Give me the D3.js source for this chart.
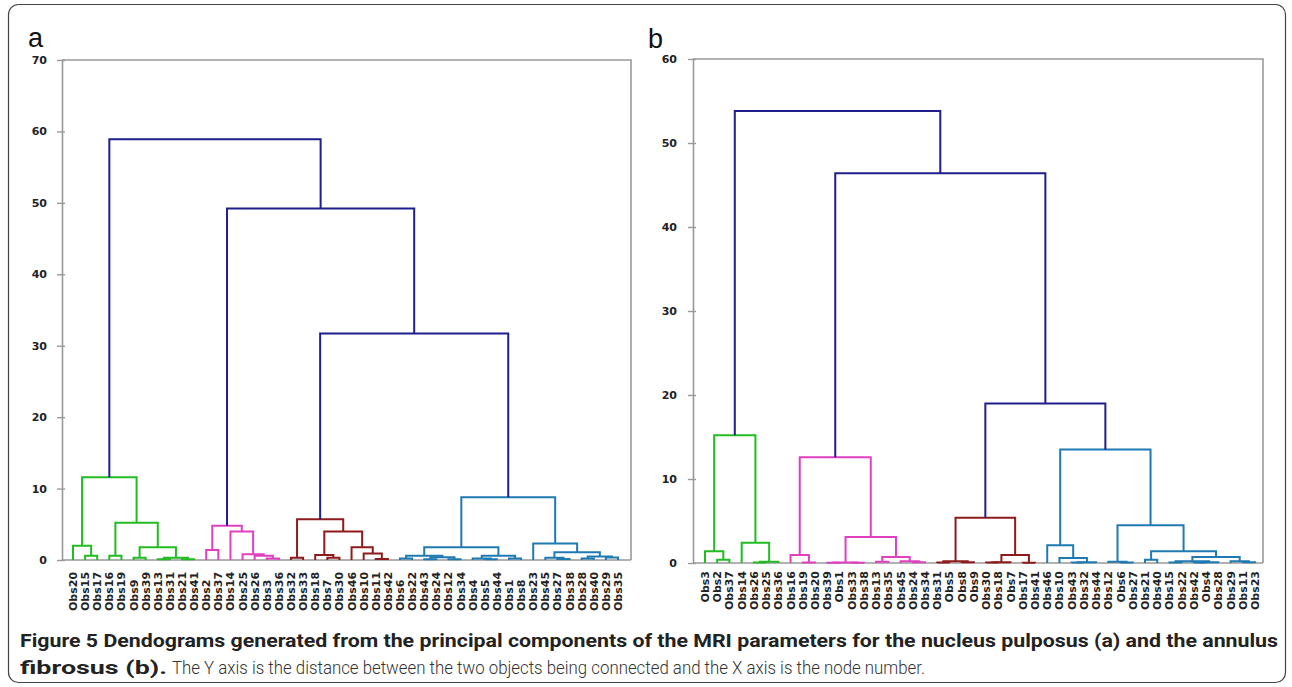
<!DOCTYPE html>
<html>
<head>
<meta charset="utf-8">
<script src="https://cdn.jsdelivr.net/npm/d3@7"></script>
<style>
  body { margin: 0; background: #fff; }
  svg { display: block; }
</style>
</head>
<body>
<div id="chart"></div>
<script>
// leaf order, merges [childA, childB, height] (child = leaf label or earlier merge index)
const leavesA = ["Obs20","Obs15","Obs17","Obs16","Obs19","Obs9","Obs39","Obs13","Obs31","Obs21","Obs41",
  "Obs2","Obs37","Obs14","Obs25","Obs26","Obs3","Obs36",
  "Obs32","Obs33","Obs18","Obs7","Obs30","Obs46","Obs10","Obs11","Obs42",
  "Obs6","Obs22","Obs43","Obs24","Obs12","Obs34","Obs4","Obs5","Obs44","Obs1","Obs8","Obs23","Obs45","Obs27","Obs38","Obs28","Obs40","Obs29","Obs35"];
const clusterSizesA = [11, 7, 9, 19];
const mergesA = [
  ["Obs15","Obs17",0.6], ["Obs20",0,2.0], ["Obs16","Obs19",0.6], ["Obs9","Obs39",0.3],
  ["Obs13","Obs31",0.1], ["Obs21","Obs41",0.1], [4,5,0.3], [3,6,1.8], [2,7,5.2], [1,8,11.6],
  ["Obs2","Obs37",1.4], ["Obs3","Obs36",0.2], ["Obs26",11,0.6], ["Obs25",12,0.8], ["Obs14",13,4.0], [10,14,4.8],
  ["Obs32","Obs33",0.3], ["Obs7","Obs30",0.3], ["Obs18",17,0.7], ["Obs11","Obs42",0.15], ["Obs10",19,0.9],
  ["Obs46",20,1.8], [18,21,4.0], [16,22,5.7],
  ["Obs6","Obs22",0.2], ["Obs43","Obs24",0.1], ["Obs12","Obs34",0.1], [25,26,0.4], [24,27,0.6],
  ["Obs5","Obs44",0.1], ["Obs4",29,0.2], ["Obs1","Obs8",0.2], [30,31,0.6], [28,32,1.8],
  ["Obs27","Obs38",0.15], ["Obs45",34,0.3], ["Obs28","Obs40",0.2], ["Obs29","Obs35",0.35], [36,37,0.5],
  [35,38,1.1], ["Obs23",39,2.3], [33,40,8.8],
  [23,41,31.7], [15,42,49.2], [9,43,58.9]
];
const ticksA = [0, 10, 20, 30, 40, 50, 60, 70];

const leavesB = ["Obs3","Obs2","Obs37","Obs14","Obs26","Obs25","Obs36",
  "Obs16","Obs19","Obs20","Obs39","Obs1","Obs33","Obs38","Obs13","Obs35","Obs45","Obs24","Obs34",
  "Obs31","Obs5","Obs8","Obs9","Obs30","Obs18","Obs7","Obs17","Obs41",
  "Obs46","Obs10","Obs43","Obs32","Obs44","Obs12","Obs6","Obs27","Obs21","Obs40","Obs15","Obs22","Obs42","Obs4","Obs28","Obs29","Obs11","Obs23"];
const clusterSizesB = [7, 12, 9, 18];
const mergesB = [
  ["Obs2","Obs37",0.4], ["Obs3",0,1.4], ["Obs26","Obs25",0.05], [2,"Obs36",0.15], ["Obs14",3,2.4], [1,4,15.2],
  ["Obs19","Obs20",0.05], ["Obs16",6,0.95], ["Obs39","Obs1",0.02], ["Obs33","Obs38",0.03], [8,9,0.06],
  ["Obs13","Obs35",0.15], ["Obs24","Obs34",0.1], ["Obs45",12,0.2], [11,13,0.7], [10,14,3.1], [7,15,12.6],
  ["Obs31","Obs5",0.05], ["Obs8","Obs9",0.1], [17,18,0.2], ["Obs30","Obs18",0.05], [20,"Obs7",0.1],
  ["Obs17","Obs41",0.02], [21,22,0.95], [19,23,5.4],
  ["Obs43","Obs32",0.05], [25,"Obs44",0.1], ["Obs10",26,0.6], ["Obs46",27,2.1],
  ["Obs6","Obs27",0.05], ["Obs12",29,0.15], ["Obs21","Obs40",0.4], ["Obs15","Obs22",0.05],
  ["Obs42","Obs4",0.05], [33,"Obs28",0.1], [32,34,0.2], ["Obs11","Obs23",0.1], ["Obs29",36,0.2],
  [35,37,0.7], [31,38,1.4], [30,39,4.5], [28,40,13.5],
  [24,41,19.0], [16,42,46.4], [5,43,53.8]
];
const ticksB = [0, 10, 20, 30, 40, 50, 60];

const clusterColors = ["#22bb22", "#e040c0", "#8e1b1b", "#1f7ab2"];
const topColor = "#1e1e8c";

const W = 1292, H = 687;
const svg = d3.select("#chart").append("svg")
  .attr("width", W).attr("height", H);

// outer figure box
svg.append("rect")
  .attr("x", 8.5).attr("y", 4.5).attr("width", 1277).attr("height", 678)
  .attr("rx", 10).attr("fill", "none").attr("stroke", "#444").attr("stroke-width", 1.2);

function drawPanel(opt) {
  const g = svg.append("g");
  const x = d3.scalePoint().domain(opt.leaves).range(opt.xr);
  const y = d3.scaleLinear().domain([0, opt.ticks[opt.ticks.length - 1]]).range(opt.yr);

  // frame: top + right border
  g.append("path")
    .attr("d", `M${opt.frame[0]},${y(opt.ticks[opt.ticks.length - 1])}H${opt.frame[1]}V${y(0)}`)
    .attr("fill", "none").attr("stroke", "#999").attr("stroke-width", 1.6);

  // y axis
  const ax = g.append("g")
    .attr("transform", `translate(${opt.frame[0]},0)`)
    .call(d3.axisLeft(y).tickValues(opt.ticks).tickSize(5).tickPadding(opt.pad).tickSizeOuter(0));
  ax.select(".domain").attr("stroke", "#999").attr("stroke-width", 1.6);
  ax.selectAll(".tick line").attr("x1", 3).attr("stroke", "#999").attr("stroke-width", 1.4);
  ax.selectAll(".tick text")
    .style("font-family", "'DejaVu Sans', Verdana, sans-serif")
    .style("font-size", "11px").style("font-weight", "bold").attr("fill", "#222");

  // x baseline
  g.append("line")
    .attr("x1", opt.frame[0]).attr("x2", opt.frame[1])
    .attr("y1", y(0)).attr("y2", y(0))
    .attr("stroke", "#999").attr("stroke-width", 1.6);

  // leaf groups
  const groupOf = {};
  let k = 0;
  opt.sizes.forEach((s, gi) => { for (let i = 0; i < s; i++) groupOf[opt.leaves[k++]] = gi; });

  const nodes = [];
  const info = c => typeof c === "string" ? { x: x(c), h: 0, g: groupOf[c] } : nodes[c];
  opt.merges.forEach(m => {
    const a = info(m[0]), b = info(m[1]);
    nodes.push({ a, b, h: m[2], x: (a.x + b.x) / 2, g: (a.g === b.g) ? a.g : -1 });
  });

  // draw low links first so the top links sit above
  const order = nodes.slice().sort((p, q) => (p.g === -1) - (q.g === -1));
  g.selectAll("path.link")
    .data(order)
    .join("path")
      .attr("class", "link")
      .attr("d", n => `M${n.a.x},${y(n.a.h)}V${y(n.h)}H${n.b.x}V${y(n.b.h)}`)
      .attr("fill", "none")
      .attr("stroke", n => n.g === -1 ? topColor : clusterColors[n.g])
      .attr("stroke-width", 2);

  // leaf labels
  g.selectAll("text.leaf")
    .data(opt.leaves)
    .join("text")
      .attr("class", "leaf")
      .attr("transform", d => `translate(${x(d)},${opt.labelY}) rotate(-90)`)
      .attr("dy", "0.36em")
      .attr("text-anchor", opt.anchor)
      .style("font-family", "'DejaVu Sans', Verdana, sans-serif")
      .style("font-size", "11px").style("font-weight", "bold")
      .attr("fill", "#222")
      .text(d => d);

  // panel letter
  svg.append("text")
    .attr("x", opt.letter[0]).attr("y", opt.letter[1])
    .style("font-family", "'Liberation Sans', Arial, sans-serif")
    .style("font-size", "27px").attr("fill", "#111")
    .text(opt.name);
}

drawPanel({ name: "a", leaves: leavesA, merges: mergesA, sizes: clusterSizesA, ticks: ticksA,
  xr: [73, 618], yr: [560, 60], frame: [62, 631], pad: 10, labelY: 611, anchor: "start", letter: [28, 47] });
drawPanel({ name: "b", leaves: leavesB, merges: mergesB, sizes: clusterSizesB, ticks: ticksB,
  xr: [705, 1255], yr: [563, 59], frame: [693, 1263], pad: 11, labelY: 571, anchor: "end", letter: [648, 48] });

// caption
const capFont = "Roboto, 'Liberation Sans', sans-serif";
function cap(txt, x0, x1, yb, bold) {
  svg.append("text")
    .attr("x", x0).attr("y", yb)
    .attr("textLength", x1 - x0).attr("lengthAdjust", "spacingAndGlyphs")
    .style("font-family", capFont).style("font-size", "18px")
    .style("font-weight", bold ? "bold" : "300")
    .attr("fill", bold ? "#222" : "#333")
    .text(txt);
}
cap("Figure 5 Dendograms generated from the principal components of the MRI parameters for the nucleus pulposus (a) and the annulus", 20, 1278, 647, true);
cap("fibrosus (b).", 20, 167, 674, true);
cap("The Y axis is the distance between the two objects being connected and the X axis is the node number.", 172, 925, 674, false);
</script>
</body>
</html>
